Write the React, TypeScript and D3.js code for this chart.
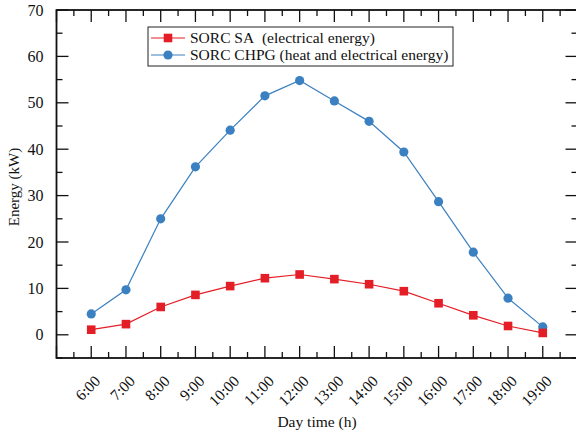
import React from "react";
import * as d3 from "d3";

const hours = [6, 7, 8, 9, 10, 11, 12, 13, 14, 15, 16, 17, 18, 19];
const hourLabels = ["6:00", "7:00", "8:00", "9:00", "10:00", "11:00", "12:00", "13:00", "14:00", "15:00", "16:00", "17:00", "18:00", "19:00"];
const saValues = [1.1, 2.3, 6.0, 8.6, 10.5, 12.2, 13.0, 12.0, 10.9, 9.4, 6.8, 4.2, 1.9, 0.4];
const chpgValues = [4.5, 9.7, 25.0, 36.2, 44.1, 51.5, 54.8, 50.4, 46.0, 39.4, 28.7, 17.8, 7.9, 1.7];
const yTicks = [0, 10, 20, 30, 40, 50, 60, 70];
const seriesNames = ["SORC SA\u00a0\u00a0(electrical energy)", "SORC CHPG (heat and electrical energy)"];

const RED = "#e41e26";
const BLUE = "#3b80c0";
const FONT = "'Liberation Serif', 'Times New Roman', serif";

export default function App() {
  const W = 576, H = 439;
  const left = 56.5, right = 577.5, top = 10, bottom = 358;
  const x = d3.scaleLinear().domain([5, 20]).range([left, right]);
  const y = d3.scaleLinear().domain([-5, 70]).range([bottom, top]);

  const line = d3.line<number>().x((_, i) => x(hours[i])).y((d) => y(d));

  const majorX = d3.range(5, 21, 1);
  const minorX = d3.range(5.5, 20, 1);
  const majorY = d3.range(-5, 71, 5).filter((v) => v % 10 === 0);
  const minorY = d3.range(-5, 71, 5).filter((v) => v % 10 !== 0);

  const MAJ = 12, MIN = 6;
  const tickStroke = "#111";

  return (
    <svg width={W} height={H} style={{ position: "absolute", left: 0, top: 0, background: "#fff" }} fontFamily={FONT}>
      <rect x={left} y={top} width={right - left} height={bottom - top} fill="none" stroke="#111" strokeWidth={1.8} />
      {majorX.map((v) => (
        <g key={"mx" + v}>
          <line x1={x(v)} x2={x(v)} y1={bottom} y2={bottom - MAJ} stroke={tickStroke} strokeWidth={1.3} />
          <line x1={x(v)} x2={x(v)} y1={top} y2={top + MAJ} stroke={tickStroke} strokeWidth={1.3} />
        </g>
      ))}
      {minorX.map((v) => (
        <g key={"nx" + v}>
          <line x1={x(v)} x2={x(v)} y1={bottom} y2={bottom - MIN} stroke={tickStroke} strokeWidth={1.3} />
          <line x1={x(v)} x2={x(v)} y1={top} y2={top + MIN} stroke={tickStroke} strokeWidth={1.3} />
        </g>
      ))}
      {majorY.map((v) => (
        <g key={"my" + v}>
          <line x1={left} x2={left + MAJ} y1={y(v)} y2={y(v)} stroke={tickStroke} strokeWidth={1.3} />
          <line x1={right} x2={right - MAJ} y1={y(v)} y2={y(v)} stroke={tickStroke} strokeWidth={1.3} />
        </g>
      ))}
      {minorY.map((v) => (
        <g key={"ny" + v}>
          <line x1={left} x2={left + MIN} y1={y(v)} y2={y(v)} stroke={tickStroke} strokeWidth={1.3} />
          <line x1={right} x2={right - MIN} y1={y(v)} y2={y(v)} stroke={tickStroke} strokeWidth={1.3} />
        </g>
      ))}
      {yTicks.map((v) => (
        <text key={"yl" + v} x={43.5} y={y(v)} dy="0.35em" textAnchor="end" fontSize={16} fill="#111">
          {v}
        </text>
      ))}
      {hours.map((h, i) => (
        <text
          key={"xl" + h}
          transform={`translate(${x(h) + 10},${382}) rotate(-45)`}
          textAnchor="end"
          fontSize={15.5}
          fill="#111"
        >
          {hourLabels[i]}
        </text>
      ))}
      <text x={317} y={427} textAnchor="middle" fontSize={15.5} fill="#111">Day time (h)</text>
      <text transform={`translate(19,${(top + bottom) / 2 + 3}) rotate(-90)`} textAnchor="middle" fontSize={15} fill="#111">Energy (kW)</text>

      <path d={line(chpgValues) || ""} fill="none" stroke={BLUE} strokeWidth={1.2} />
      <path d={line(saValues) || ""} fill="none" stroke={RED} strokeWidth={1.2} />
      {chpgValues.map((v, i) => (
        <circle key={"c" + i} cx={x(hours[i])} cy={y(v)} r={4.6} fill={BLUE} />
      ))}
      {saValues.map((v, i) => (
        <rect key={"s" + i} x={x(hours[i]) - 4.3} y={y(v) - 4.3} width={8.6} height={8.6} fill={RED} />
      ))}

      <rect x={148} y={27} width={305} height={39} fill="#fff" stroke="#222" strokeWidth={1} />
      <line x1={151} x2={185} y1={38} y2={38} stroke={RED} strokeWidth={1.2} />
      <rect x={168 - 4.3} y={38 - 4.3} width={8.6} height={8.6} fill={RED} />
      <text x={190} y={38} dy="0.35em" fontSize={15.5} fill="#111">{seriesNames[0]}</text>
      <line x1={151} x2={185} y1={55} y2={55} stroke={BLUE} strokeWidth={1.2} />
      <circle cx={168} cy={55} r={4.6} fill={BLUE} />
      <text x={190} y={55} dy="0.35em" fontSize={15.5} fill="#111">{seriesNames[1]}</text>
    </svg>
  );
}
